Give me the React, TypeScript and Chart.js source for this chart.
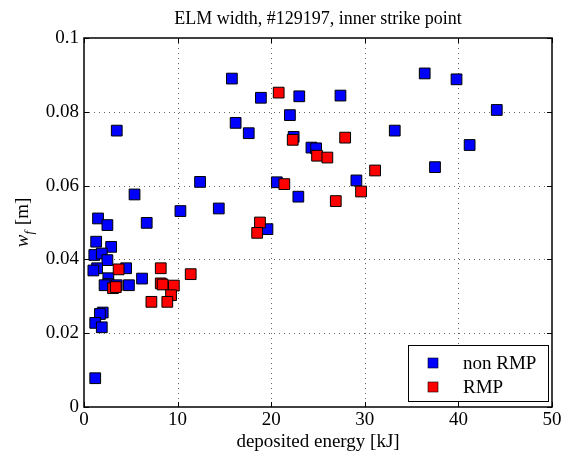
import React, { useEffect, useRef } from "react";
import { Chart, registerables } from "chart.js";

Chart.register(...registerables);

const chartTitle = "ELM width, #129197, inner strike point";
const xAxisTitle = "deposited energy [kJ]";
const seriesNames = ["non RMP", "RMP"];
const seriesColors = ["#0000ff", "#ff0000"];

const xTicks = [0, 10, 20, 30, 40, 50];
const yTicks = [0, 0.02, 0.04, 0.06, 0.08, 0.1];

const nonRmpEnergy = [
  15.8, 16.2, 17.6, 3.5, 12.4, 5.4, 10.3, 14.4, 1.5, 2.5, 6.7, 1.3, 2.9, 1.1, 1.9, 2.5,
  1.4, 1.0, 4.5, 6.2, 2.6, 2.6, 3.5, 4.8, 2.2, 2.0, 1.7, 1.2, 1.9, 1.2, 18.9, 23.0, 27.4,
  22.0, 22.4, 24.3, 24.8, 33.2, 29.1, 20.6, 22.9, 19.6, 36.4, 39.8, 44.1, 41.2, 37.5,
];
const nonRmpWidth = [
  0.089, 0.077, 0.0742, 0.0749, 0.061, 0.0576, 0.0531, 0.0538, 0.0511, 0.0493, 0.0499,
  0.0448, 0.0434, 0.0412, 0.0416, 0.0398, 0.0376, 0.037, 0.0376, 0.0348, 0.0349, 0.0333,
  0.033, 0.033, 0.033, 0.0256, 0.0252, 0.0228, 0.0216, 0.0078, 0.0838, 0.0842, 0.0844,
  0.0791, 0.0732, 0.0703, 0.0701, 0.0749, 0.0614, 0.0609, 0.057, 0.0482, 0.0904, 0.0888,
  0.0805, 0.071, 0.065,
];

const rmpEnergy = [
  20.8, 22.3, 27.9, 24.9, 26.0, 31.1, 29.6, 21.4, 26.9, 18.8, 18.5, 3.7, 3.1, 3.4, 8.2,
  11.4, 8.2, 8.4, 9.6, 9.3, 7.2, 8.9,
];
const rmpWidth = [
  0.0852, 0.0724, 0.073, 0.0681, 0.0676, 0.0641, 0.0584, 0.0604, 0.0558, 0.05, 0.0472,
  0.0373, 0.0322, 0.0325, 0.0376, 0.036, 0.0335, 0.0332, 0.0329, 0.0303, 0.0285, 0.0285,
];

const FONT = "'Liberation Serif', 'Times New Roman', serif";

const decorPlugin = {
  id: "decor",
  beforeDatasetsDraw(chart: any) {
    const { ctx, chartArea, scales } = chart;
    const { left, right, top, bottom } = chartArea;
    ctx.save();
    ctx.strokeStyle = "#666";
    ctx.lineWidth = 1;
    ctx.setLineDash([1, 4]);
    xTicks.slice(1, -1).forEach((v) => {
      const px = Math.round(scales.x.getPixelForValue(v)) + 0.5;
      ctx.beginPath();
      ctx.moveTo(px, top);
      ctx.lineTo(px, bottom);
      ctx.stroke();
    });
    yTicks.slice(1, -1).forEach((v) => {
      const py = Math.round(scales.y.getPixelForValue(v)) + 0.5;
      ctx.beginPath();
      ctx.moveTo(left, py);
      ctx.lineTo(right, py);
      ctx.stroke();
    });
    ctx.restore();
  },
  afterDatasetsDraw(chart: any) {
    const { ctx, chartArea, scales } = chart;
    const { left, right, top, bottom } = chartArea;
    ctx.save();
    // frame
    ctx.setLineDash([]);
    ctx.strokeStyle = "#000";
    ctx.lineWidth = 1.5;
    ctx.strokeRect(left, top, right - left, bottom - top);
    // inward ticks
    ctx.lineWidth = 1;
    const tl = 5;
    xTicks.forEach((v) => {
      const px = Math.round(scales.x.getPixelForValue(v)) + 0.5;
      ctx.beginPath();
      ctx.moveTo(px, bottom);
      ctx.lineTo(px, bottom - tl);
      ctx.moveTo(px, top);
      ctx.lineTo(px, top + tl);
      ctx.stroke();
    });
    yTicks.forEach((v) => {
      const py = Math.round(scales.y.getPixelForValue(v)) + 0.5;
      ctx.beginPath();
      ctx.moveTo(left, py);
      ctx.lineTo(left + tl, py);
      ctx.moveTo(right, py);
      ctx.lineTo(right - tl, py);
      ctx.stroke();
    });

    // legend box
    const bw = 140;
    const bh = 56;
    const bx = right - 4 - bw;
    const by = bottom - 6 - bh;
    ctx.fillStyle = "#fff";
    ctx.fillRect(bx, by, bw, bh);
    ctx.strokeStyle = "#000";
    ctx.lineWidth = 1;
    ctx.strokeRect(bx + 0.5, by + 0.5, bw, bh);
    ctx.font = `19px ${FONT}`;
    ctx.textBaseline = "middle";
    ctx.textAlign = "left";
    seriesNames.forEach((name, i) => {
      const cy = by + 18 + i * 24;
      ctx.fillStyle = seriesColors[i];
      ctx.fillRect(bx + 20, cy - 5, 10, 10);
      ctx.strokeStyle = "#000";
      ctx.lineWidth = 0.6;
      ctx.strokeRect(bx + 20, cy - 5, 10, 10);
      ctx.fillStyle = "#000";
      ctx.fillText(name, bx + 55, cy + 1);
    });

    // title
    ctx.font = `18px ${FONT}`;
    ctx.textAlign = "center";
    ctx.textBaseline = "alphabetic";
    ctx.fillStyle = "#000";
    ctx.fillText(chartTitle, (left + right) / 2, 24);

    // y axis title: w_f [m]
    ctx.save();
    ctx.translate(22, (top + bottom) / 2);
    ctx.rotate(-Math.PI / 2);
    ctx.textAlign = "left";
    ctx.textBaseline = "alphabetic";
    const fW = `italic 19px ${FONT}`;
    const fF = `italic 13px ${FONT}`;
    const fM = `19px ${FONT}`;
    ctx.font = fW;
    const wW = ctx.measureText("w").width;
    ctx.font = fF;
    const wF = ctx.measureText("f").width;
    ctx.font = fM;
    const wM = ctx.measureText(" [m]").width;
    let x0 = -(wW + wF + 1 + wM) / 2;
    ctx.font = fW;
    ctx.fillText("w", x0, 6);
    x0 += wW;
    ctx.font = fF;
    ctx.fillText("f", x0, 11);
    x0 += wF + 1;
    ctx.font = fM;
    ctx.fillText(" [m]", x0, 6);
    ctx.restore();

    ctx.restore();
  },
};

export default function App() {
  const ref = useRef<HTMLCanvasElement | null>(null);
  useEffect(() => {
    if (!ref.current) return;
    const chart = new Chart(ref.current, {
      type: "scatter",
      data: {
        datasets: [
          {
            label: seriesNames[0],
            data: nonRmpEnergy.map((x, i) => ({ x, y: nonRmpWidth[i] })),
            backgroundColor: seriesColors[0],
            borderColor: "#000",
            borderWidth: 1,
            pointStyle: "rect",
            pointRadius: 7.6,
            order: 1,
          },
          {
            label: seriesNames[1],
            data: rmpEnergy.map((x, i) => ({ x, y: rmpWidth[i] })),
            backgroundColor: seriesColors[1],
            borderColor: "#000",
            borderWidth: 1,
            pointStyle: "rect",
            pointRadius: 7.6,
            order: 0,
          },
        ],
      },
      options: {
        animation: false,
        responsive: false,
        devicePixelRatio: 1,
        layout: { padding: { top: 38, right: 15, left: 0, bottom: 0 } },
        plugins: {
          legend: { display: false },
          tooltip: { enabled: false },
          title: { display: false },
        },
        scales: {
          x: {
            type: "linear",
            min: 0,
            max: 50,
            afterBuildTicks: (s: any) => {
              s.ticks = xTicks.map((v) => ({ value: v }));
            },
            afterFit: (s: any) => {
              s.height = 52;
            },
            grid: { display: false, drawTicks: false },
            border: { display: false },
            ticks: {
              color: "#000",
              font: { family: FONT, size: 19 },
              padding: 2,
              maxRotation: 0,
              callback: (v: any) => String(v),
            },
            title: {
              display: true,
              text: xAxisTitle,
              color: "#000",
              font: { family: FONT, size: 19 },
              padding: { top: 0, bottom: 6 },
            },
          },
          y: {
            type: "linear",
            min: 0,
            max: 0.1,
            afterBuildTicks: (s: any) => {
              s.ticks = yTicks.map((v) => ({ value: v }));
            },
            afterFit: (s: any) => {
              s.width = 84;
            },
            grid: { display: false, drawTicks: false },
            border: { display: false },
            ticks: {
              color: "#000",
              font: { family: FONT, size: 19 },
              padding: 5,
              callback: (v: any) => String(+Number(v).toFixed(2)),
            },
          },
        },
      },
      plugins: [decorPlugin],
    });
    return () => chart.destroy();
  }, []);
  return (
    <div style={{ position: "absolute", left: 0, top: 0, width: 567, height: 459, background: "#fff" }}>
      <canvas ref={ref} width={567} height={459} style={{ display: "block" }} />
    </div>
  );
}
